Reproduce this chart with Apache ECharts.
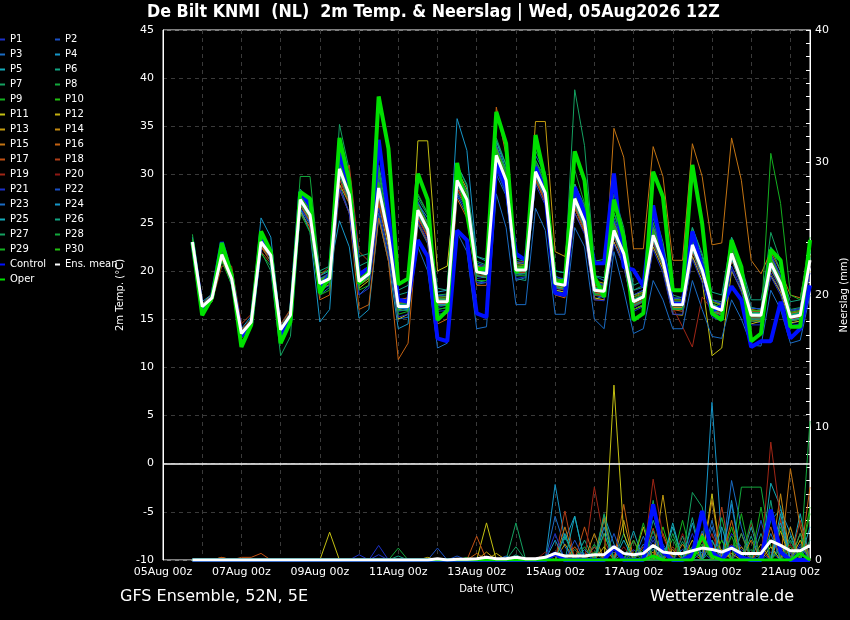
<!DOCTYPE html>
<html lang="en">
<head>
<meta charset="UTF-8">
<title>De Bilt KNMI 2m Temp. & Neerslag</title>
<script type="text/javascript" src="https://cdn.jsdelivr.net/npm/echarts@6/dist/echarts.min.js"></script>
<style>
    html, body { margin: 0; padding: 0; background: #000; }
</style>
</head>
<body>
<div id="main" style="width: 850px; height: 620px;"></div>
<script type="text/javascript">
    // forecast steps, hours after 05Aug 00z (run 05Aug 12Z, +6h ... +384h)
    var stepHours = [18,24,30,36,42,48,54,60,66,72,78,84,90,96,102,108,114,120,126,132,138,144,150,156,
        162,168,174,180,186,192,198,204,210,216,222,228,234,240,246,252,258,264,270,276,282,288,294,300,
        306,312,318,324,330,336,342,348,354,360,366,372,378,384,390,396];
    var dateLabels = ['05Aug 00z','07Aug 00z','09Aug 00z','11Aug 00z','13Aug 00z','15Aug 00z','17Aug 00z','19Aug 00z','21Aug 00z'];

    var memberNames = ['P1','P2','P3','P4','P5','P6','P7','P8','P9','P10','P11','P12','P13','P14','P15',
        'P16','P17','P18','P19','P20','P21','P22','P23','P24','P25','P26','P27','P28','P29','P30'];
    var memberColors = ['#1c30c8','#1a50c4','#1a6cc4','#1696c8','#14aab8','#12a482','#14a060','#12a83c','#14b020','#22c010',
        '#c4c012','#c4b010','#c49c10','#c48a10','#c47412','#c46212','#c05014','#b03e18','#a02616','#8e1814',
        '#1c30c8','#1a50c4','#1a6cc4','#1696c8','#14aab8','#12a482','#14a060','#12a83c','#14b020','#22c010'];

    // 2m temperature (°C) per member
    var memberTemp = [
        [23.3,16.6,17.4,21.9,19.5,13.8,14.9,23.4,21.8,14.1,15.6, 26.8,25.0,18.2,19.0,29.8,27.0,18.5,19.4,27.5,23.0,15.8,16.0, 25.5,23.8,16.2,16.5,28.8,27.0,19.2,19.4,30.8,28.2,19.5,19.8, 29.5,27.2,18.2,18.0,26.5,24.5,17.5,17.2,23.0,20.8,16.2,16.8, 22.8,20.5,16.0,16.2,21.5,19.5,15.8,15.2,20.5,18.2,14.8,14.6,19.8,17.9,14.5,14.8,20.5],
        [22.8,16.1,17.0,21.4,19.0,13.2,14.4,22.7,21.3,13.6,15.2, 27.9,26.3,19.2,19.6,31.5,28.5,19.5,20.2,29.5,24.6,17.0,17.2, 27.2,25.0,17.5,17.3,30.2,28.2,20.8,20.5,33.0,30.2,21.0,20.8, 31.0,29.0,19.5,19.0,28.5,26.0,18.8,18.6,25.5,22.8,17.5,18.0, 25.0,22.0,17.2,17.0,23.5,21.0,17.0,16.5,22.8,20.0,16.2,16.0,21.8,19.5,15.8,16.0,22.0],
        [23.1,16.2,17.3,21.6,19.3,13.4,14.8,23.1,21.7,13.8,15.3, 26.5,24.8,17.5,18.3,29.0,26.0,17.5,18.5,26.0,21.5,15.0,15.2, 24.8,22.8,15.5,15.6,27.8,25.8,18.6,18.8,30.0,27.8,19.0,19.3, 32.0,30.0,20.0,19.8,29.0,26.8,19.5,19.0,26.0,23.5,18.0,18.3, 24.5,22.0,17.0,17.3,23.0,20.5,16.5,16.0,22.0,19.2,15.6,15.8,21.0,19.0,15.5,15.8,21.5],
        [23.5,16.8,17.6,22.2,19.6,14.0,15.3,25.5,23.5,14.3,16.0, 27.8,26.5,19.5,20.0,25.2,22.5,15.1,16.0,25.5,21.0,14.0,14.5, 27.0,25.5,17.8,18.0,35.8,32.5,21.5,21.0,33.5,30.5,21.5,21.2, 29.8,27.5,18.0,17.8,26.8,24.2,17.0,17.5,24.8,22.0,16.5,17.0, 23.0,20.8,16.2,16.0,22.0,19.8,15.8,15.5,21.5,18.8,15.0,15.2,20.2,18.5,14.8,15.0,20.5],
        [22.7,16.4,17.3,21.8,19.4,13.6,14.6,22.8,21.6,13.7,15.6, 27.2,25.5,18.5,19.0,31.2,28.4,19.0,19.6,28.0,23.2,16.0,16.5, 26.8,24.8,17.2,17.0,29.8,27.5,20.2,19.8,32.5,29.8,20.4,20.5, 30.8,28.5,18.8,18.6,27.8,25.5,18.2,18.0,24.6,22.2,17.0,17.5, 24.2,21.5,16.8,16.8,23.0,20.5,16.5,16.2,22.2,19.5,15.8,15.6,21.5,19.2,15.5,15.7,22.0],
        [23.0,16.5,17.5,22.0,19.0,13.3,14.6,22.5,21.0,13.5,15.5, 28.2,26.8,19.5,20.2,32.0,29.2,20.5,21.0,30.5,25.5,17.5,17.8, 25.8,23.5,16.0,16.2,28.2,26.5,19.0,18.8,31.0,28.0,19.2,19.0, 29.2,27.5,18.4,18.2,27.0,25.0,17.8,17.6,24.0,21.5,16.5,17.0, 23.2,20.8,16.2,16.0,22.4,20.0,16.0,15.8,21.5,18.8,15.2,15.2,20.5,18.5,15.0,15.2,21.0],
        [23.2,16.0,16.8,21.3,18.5,12.4,14.2,22.0,20.0,11.2,13.2, 27.0,25.0,18.0,19.5,35.2,30.5,19.8,20.0,30.0,25.0,17.0,16.8, 27.5,25.8,17.5,17.6,31.0,28.8,21.0,20.6,33.8,31.0,21.2,21.0, 32.5,30.2,20.0,19.8,38.8,33.0,21.0,21.2,28.0,24.5,18.0,18.5, 26.5,23.0,17.5,17.2,24.5,21.5,17.0,16.8,23.5,20.5,16.2,16.0,24.0,21.0,16.0,16.2,22.5],
        [23.8,16.5,17.2,22.0,19.4,13.5,14.8,23.2,21.8,14.0,16.0, 29.8,29.8,19.8,20.0,30.0,27.5,18.8,19.5,27.8,23.0,16.0,16.2, 26.0,24.0,16.5,16.6,29.0,27.0,19.6,19.5,31.8,29.0,19.8,19.9, 30.0,27.8,18.5,18.3,27.2,25.0,17.8,17.7,24.0,21.5,16.6,17.0, 23.5,21.0,16.4,16.4,22.5,20.0,16.2,15.8,21.6,18.8,15.2,15.3,20.6,18.5,15.0,15.2,21.0],
        [22.9,16.2,17.0,21.5,19.1,13.6,14.8,23.3,21.9,14.2,15.8, 28.0,26.2,19.0,19.5,31.0,28.2,19.2,20.0,29.0,24.0,16.8,16.6, 26.6,24.6,17.0,17.2,29.6,27.6,20.0,19.8,32.2,29.6,20.3,20.2, 30.6,28.4,19.0,18.8,28.0,25.5,18.2,18.0,24.5,22.0,17.0,17.4, 24.0,21.3,16.6,16.6,23.0,20.3,16.4,16.0,22.0,19.2,15.5,15.5,21.0,18.9,15.3,15.5,21.3],
        [23.1,16.4,17.2,21.8,19.3,13.5,14.7,23.0,21.5,13.9,15.3, 27.5,26.0,18.8,19.3,30.4,27.8,19.0,19.8,28.5,23.5,16.2,16.4, 26.2,24.2,16.8,16.9,29.2,27.3,19.8,19.6,31.8,29.2,20.0,20.0, 30.2,28.0,18.6,18.4,27.4,25.0,17.9,17.8,24.0,21.7,16.7,17.2, 23.6,21.0,16.4,16.4,22.6,20.0,16.2,15.8,21.7,18.9,15.3,15.3,20.7,18.6,15.1,15.3,21.0],
        [22.8,16.0,17.4,21.2,19.0,13.0,14.5,22.5,21.4,13.6,15.5, 26.2,24.5,18.0,18.6,29.0,27.0,18.2,19.0,27.0,22.4,15.0,15.5, 33.5,33.5,20.0,20.5,30.5,28.5,20.5,20.2,33.0,30.0,20.8,20.6, 30.0,27.5,18.0,17.8,26.5,24.2,17.2,17.0,23.0,20.5,16.0,16.4, 22.5,20.2,15.5,15.4,21.5,19.0,11.2,12.0,20.0,18.0,14.5,14.8,19.5,17.8,14.6,14.8,20.0],
        [23.0,16.6,17.1,21.9,19.5,13.7,14.9,23.2,21.7,14.0,15.5, 27.0,25.5,18.5,19.0,30.2,27.5,18.5,19.2,28.0,23.5,16.5,16.8, 26.5,24.5,17.0,17.2,29.5,27.5,20.2,20.0,32.2,29.6,20.5,20.3, 30.5,28.5,19.0,18.7,27.8,25.3,18.2,18.0,24.5,22.0,17.0,17.4, 23.9,21.2,16.8,16.6,22.9,20.2,16.5,16.1,22.0,19.2,15.6,15.5,21.0,18.8,15.3,15.5,21.2],
        [22.9,16.5,17.6,21.7,19.2,13.8,15.0,22.9,21.5,14.0,15.8, 27.3,25.7,18.8,19.4,30.0,27.5,19.5,20.2,28.0,23.8,16.8,17.0, 26.0,24.0,16.6,16.8,29.0,27.0,20.0,19.8,31.5,29.0,20.2,20.5, 35.5,35.5,22.0,21.5,29.0,26.0,19.0,18.7,25.0,22.5,17.5,17.8, 24.5,21.8,17.0,17.0,23.5,20.8,16.8,16.5,22.5,19.8,16.0,15.8,21.5,19.2,15.6,15.8,21.6],
        [23.0,16.2,17.0,21.6,19.0,13.4,14.6,22.8,21.4,13.8,15.2, 27.0,25.2,18.4,18.9,30.0,27.3,18.6,19.3,28.0,23.2,16.0,16.2, 26.0,24.0,16.5,16.4,29.0,27.0,19.5,19.3,31.5,29.0,19.8,19.8, 30.0,27.8,18.4,18.2,27.0,24.8,17.7,17.6,24.0,21.5,16.5,17.0, 23.4,20.8,16.2,16.2,22.4,19.8,16.0,15.6,21.5,18.7,15.1,15.1,20.5,18.4,14.9,15.1,20.8],
        [23.2,16.4,17.2,21.8,19.2,13.6,14.8,23.1,21.8,14.0,15.5, 27.6,26.0,19.0,19.5,30.8,28.2,19.2,20.0,28.8,24.0,16.6,16.6, 26.6,24.6,17.0,17.0,29.6,27.6,20.2,20.0,32.4,29.8,20.4,20.4, 30.5,28.3,19.0,18.8,27.8,25.4,18.3,18.2,34.8,31.8,22.3,22.3, 32.9,29.8,21.1,21.1,33.2,29.8,22.7,22.9,33.8,29.4,21.1,19.7,22.0,20.0,17.5,17.2,22.5],
        [23.0,16.1,17.2,21.4,18.9,13.2,14.4,22.6,21.3,13.5,15.0, 26.0,24.5,17.0,17.5,28.5,26.0,16.0,16.5,25.5,21.0,10.8,12.5, 25.0,23.0,14.5,15.0,27.5,25.5,18.5,18.5,37.0,32.0,20.5,20.0, 29.5,27.0,17.5,17.2,26.0,24.0,17.0,17.0,23.5,21.0,16.0,16.5, 23.0,20.5,16.0,15.8,22.0,19.5,15.8,15.4,21.2,18.5,14.8,14.9,20.2,18.2,14.8,15.0,20.8],
        [23.1,16.3,17.0,21.5,19.5,13.9,15.0,22.5,21.0,14.2,15.6, 26.8,25.2,19.0,19.8,29.5,27.0,19.8,20.5,27.5,23.5,17.0,17.2, 25.6,23.6,17.2,17.4,28.6,26.8,20.5,20.5,31.0,28.5,20.8,21.0, 29.6,27.5,19.2,19.0,26.8,24.6,18.6,18.4,23.5,21.3,17.3,17.6, 23.0,20.8,17.0,17.0,22.0,19.8,16.8,16.4,21.2,18.6,15.8,15.8,20.2,18.3,15.6,15.8,20.6],
        [22.8,16.0,16.8,20.5,20.5,14.5,15.5,22.0,20.8,14.5,16.0, 26.0,24.5,19.5,20.5,28.0,31.0,22.0,21.0,27.0,23.0,16.8,16.5, 25.5,23.5,16.5,16.5,28.5,26.5,19.5,19.3,31.2,28.8,19.8,19.8, 29.5,27.2,18.2,18.0,26.5,24.2,17.5,17.4,23.5,21.0,16.3,16.8, 23.0,20.6,16.1,16.0,22.0,19.6,15.9,15.5,21.2,18.5,15.0,15.0,20.2,18.2,14.8,15.0,20.5],
        [23.0,16.4,17.4,21.8,19.4,13.6,14.9,23.0,21.8,14.0,15.6, 27.5,25.8,18.6,19.0,30.5,27.8,18.8,19.5,28.5,23.5,16.2,16.2, 26.2,24.2,16.6,16.6,29.2,27.2,19.6,19.4,31.8,29.2,19.8,19.9, 30.2,28.0,18.5,18.3,27.2,24.8,17.8,17.6,23.8,21.5,16.5,17.0, 23.5,20.8,16.2,14.2,12.1,17.3,16.0,15.6,21.5,18.7,15.1,15.1,20.5,18.4,15.0,15.2,20.8],
        [23.2,16.5,17.3,22.0,19.6,13.8,15.0,23.3,22.0,14.2,15.8, 27.8,26.2,19.0,19.6,31.0,28.3,19.2,20.0,29.0,24.2,16.8,16.8, 26.8,24.8,17.2,17.2,30.0,27.9,20.3,20.1,32.6,30.0,20.6,20.6, 30.8,28.6,19.0,18.9,28.2,25.7,18.4,18.3,24.8,22.3,17.3,17.8, 24.2,21.6,17.0,17.0,23.3,20.7,16.8,16.4,22.3,19.6,15.9,15.9,21.3,19.2,15.7,15.9,21.6],
        [23.0,16.2,17.1,21.7,19.2,13.4,14.6,22.9,21.5,13.8,15.3, 26.5,25.0,18.0,18.5,28.5,26.0,17.5,18.2,26.5,22.0,15.2,15.5, 25.2,23.2,15.8,15.9,28.0,26.2,18.8,18.8,30.5,28.0,19.2,19.4, 29.0,26.8,17.6,17.4,26.0,23.8,17.0,16.9,22.8,20.5,15.8,16.3, 22.2,19.8,15.5,15.5,21.2,18.8,15.2,14.8,20.2,17.8,14.4,14.4,19.4,17.5,14.3,14.5,19.8],
        [23.1,16.5,17.3,21.9,19.4,13.7,14.9,23.2,21.9,14.1,15.7, 28.0,26.5,19.2,19.8,31.5,28.6,19.5,20.3,29.5,24.5,16.8,17.0, 27.0,25.0,17.4,17.4,30.2,28.2,20.6,20.4,33.0,30.2,20.8,20.8, 31.2,29.0,19.3,19.2,28.5,26.0,18.7,18.5,25.2,22.6,17.5,18.0, 24.6,21.9,17.2,17.2,23.6,21.0,17.0,16.6,22.6,19.8,16.1,16.1,21.6,19.4,15.9,16.1,21.9],
        [22.9,16.3,17.3,21.6,19.1,13.5,14.7,23.1,21.6,13.9,15.4, 27.3,25.6,18.6,19.1,30.4,27.6,18.7,19.5,28.3,23.4,16.1,16.1, 22.5,20.0,12.0,12.5,24.0,22.0,14.0,14.2,28.0,24.5,16.5,16.5, 26.5,24.2,15.5,15.5,24.5,22.5,15.0,14.0,22.0,18.0,13.5,14.0, 19.0,17.0,14.0,14.0,19.0,16.0,13.2,13.0,17.0,15.0,12.3,12.2,18.0,16.0,12.5,12.8,17.5],
        [23.0,16.3,17.1,21.6,19.1,13.4,14.6,22.9,21.5,13.8,15.3, 26.5,24.0,14.7,16.0,30.3,27.6,18.7,19.5,28.2,23.4,16.1,16.0, 26.0,24.0,16.5,16.5,29.0,27.0,19.5,19.3,31.5,29.0,19.7,19.7, 29.8,27.6,18.3,18.1,27.0,24.6,17.6,17.5,23.6,21.3,16.4,16.9, 23.2,20.6,16.1,16.1,22.2,19.6,15.9,15.5,21.3,18.5,15.0,15.0,20.3,18.3,14.9,15.1,20.7],
        [23.1,16.4,17.2,21.8,19.3,13.6,14.8,23.1,21.7,14.0,15.5, 27.6,26.0,18.9,19.4,30.8,28.1,19.1,19.9,28.8,23.9,16.5,16.5, 26.5,24.5,17.0,17.0,29.6,27.6,20.1,19.9,32.2,29.6,20.3,20.3, 30.5,28.3,18.9,18.7,27.7,25.3,18.2,18.1,24.4,22.0,17.0,17.5, 23.9,21.3,16.7,16.7,22.9,20.3,16.5,16.1,22.0,19.2,15.6,15.6,21.0,18.9,15.4,15.6,21.3],
        [22.8,16.2,17.2,21.5,19.0,13.3,14.5,22.8,21.4,13.7,15.2, 28.5,27.0,20.0,20.5,32.5,29.5,21.5,21.8,31.0,26.0,18.0,18.5, 27.8,26.0,18.2,18.0,31.0,29.0,21.5,21.2,33.5,31.0,21.5,21.3, 31.5,29.5,20.0,19.8,29.0,26.5,19.5,19.3,26.0,23.2,18.5,19.0, 25.5,22.5,18.0,18.0,24.5,21.8,17.8,17.5,23.5,20.5,17.0,17.0,22.5,20.0,16.8,17.0,22.8],
        [23.0,16.3,17.2,21.7,19.2,13.5,14.7,23.0,21.6,13.9,15.4, 27.0,25.4,18.3,18.8,30.0,27.3,18.5,19.3,28.0,23.2,15.9,15.9, 25.9,23.9,16.4,16.4,29.0,27.0,19.5,19.3,31.6,29.0,19.7,19.7, 29.9,27.7,18.3,18.1,27.1,24.7,17.6,17.5,23.8,21.4,16.4,16.9, 23.3,20.7,16.1,16.1,22.3,19.7,15.9,15.5,21.4,18.6,15.0,15.0,20.4,18.3,14.8,15.0,20.7],
        [23.2,16.4,17.3,21.9,19.3,13.6,14.8,23.1,21.7,14.0,15.5, 27.7,26.1,19.0,19.5,30.9,28.2,19.2,20.0,28.9,24.0,16.6,16.6, 26.6,24.6,17.1,17.1,29.7,27.7,20.2,20.0,32.3,29.7,20.4,20.4, 30.6,28.4,19.0,18.8,27.8,25.4,18.3,18.2,24.5,22.1,17.1,17.6, 24.0,21.4,16.8,16.8,23.0,20.4,16.6,16.2,22.1,19.3,15.7,15.7,21.1,19.0,15.5,15.7,21.4],
        [23.3,16.2,16.8,21.0,18.6,12.6,14.2,21.8,20.5,13.2,14.5, 26.0,24.0,17.5,18.0,32.5,28.5,18.0,18.5,30.5,24.5,15.5,15.8, 28.0,26.0,16.0,16.2,30.5,28.0,19.0,19.0,32.5,30.5,19.5,19.5, 31.5,29.0,18.5,18.3,30.5,27.0,17.5,17.6,26.0,22.8,16.0,16.5, 25.0,22.0,16.0,16.0,24.0,21.0,15.5,15.2,23.0,20.0,14.8,14.8,32.2,27.0,17.5,17.0,23.5],
        [22.9,16.5,17.2,21.9,19.4,13.7,14.9,23.2,21.8,14.1,15.6, 27.8,26.3,19.1,19.6,31.2,28.4,19.4,20.2,29.2,24.2,16.8,16.8, 26.9,24.9,17.3,17.3,30.0,28.0,20.4,20.2,32.7,30.0,20.6,20.6, 30.9,28.7,19.2,19.0,28.2,25.7,18.5,18.4,24.8,22.4,17.3,17.8, 24.3,21.6,17.0,17.0,23.3,20.7,16.8,16.4,22.3,19.5,15.9,15.9,21.3,19.2,15.7,15.9,21.6]
    ];
    var controlTemp = [23.0,15.9,17.3,23.0,19.4,13.2,14.6,23.4,21.6,13.2,14.9, 28.2,26.8,18.2,19.6,32.2,28.9,19.6,20.3,33.6,25.8,17.0,16.8,
        23.2,21.5,13.0,12.7,24.2,23.2,15.6,15.2,31.2,28.7,21.8,21.1, 30.8,28.1,17.7,17.5,28.7,26.0,20.8,20.8,30.1,20.4,20.1,18.4,
        26.8,21.7,16.6,16.6,24.1,20.4,15.9,16.3,18.4,17.0,12.1,12.7,12.7,16.8,13.0,14.0,18.5];
    var operTemp = [23.0,15.4,17.2,22.9,19.6,12.1,14.4,24.1,22.0,12.5,14.7, 28.2,27.5,17.7,19.4,33.8,29.3,18.7,19.9,38.1,32.7,18.6,19.2,
        30.1,27.4,14.9,15.9,31.2,26.0,20.1,20.3,36.5,33.2,19.9,20.4, 34.1,29.4,18.7,19.0,32.4,29.4,19.4,17.3,27.4,23.5,14.9,15.6,
        30.3,27.7,18.0,18.0,31.0,24.9,15.6,14.9,23.2,20.4,12.7,13.5,22.2,21.1,14.2,14.2,23.2];
    var ensMeanTemp = [23.0,16.3,17.2,21.7,19.2,13.5,14.7,23.0,21.6,13.9,15.4, 27.4,25.8,18.7,19.2,30.6,27.9,18.9,19.7,28.6,23.7,16.3,16.3,
        26.3,24.3,16.8,16.8,29.4,27.4,19.9,19.7,32.0,29.4,20.1,20.1, 30.3,28.1,18.7,18.5,27.5,25.1,18.0,17.9,24.2,21.8,16.8,17.3,
        23.7,21.1,16.5,16.5,22.7,20.1,16.3,15.9,21.8,19.0,15.4,15.4,20.8,18.7,15.2,15.4,21.1];

    // precipitation (mm per 6h): [step index, mm], all other steps dry
    var memberRain = [
        [[17,0.4],[19,1.1],[37,0.3],[40,0.5],[47,1.5],[50,0.8],[55,2.0],[56,1.0],[59,0.6],[62,1.2]],
        [[25,0.9],[27,0.3],[43,0.6],[48,1.2],[52,2.2],[58,0.5],[61,1.5]],
        [[37,3.3],[38,1.0],[44,0.5],[46,1.8],[53,2.5],[55,6.0],[56,2.5],[60,1.0]],
        [[37,5.7],[38,1.5],[39,3.3],[42,3.4],[43,1.2],[47,0.8],[53,11.9],[54,1.5],[59,3.0],[60,3.8],[61,2.0]],
        [[38,2.0],[41,1.0],[45,2.2],[49,2.5],[51,1.0],[57,2.5],[59,5.8],[60,4.0],[62,3.5]],
        [[33,0.4],[40,1.5],[42,3.0],[47,3.0],[48,1.0],[50,1.8],[55,1.0],[58,2.0],[61,1.8]],
        [[33,2.8],[39,0.8],[44,2.0],[47,4.5],[51,5.1],[52,4.0],[57,0.8],[60,1.2],[63,1.5]],
        [[21,0.9],[28,0.2],[41,1.2],[46,0.8],[49,1.6],[54,3.2],[56,5.5],[57,5.5],[58,5.5],[59,1.0],[63,10.5]],
        [[42,2.0],[45,0.5],[50,3.0],[53,1.5],[56,3.5],[60,2.5]],
        [[43,0.8],[48,2.5],[52,1.2],[55,2.5],[61,1.0],[63,4.0]],
        [[14,2.1],[30,2.8],[43,13.2],[44,2.0],[48,1.0],[53,5.0],[55,0.5],[59,1.0]],
        [[24,0.2],[31,0.5],[42,1.0],[46,2.5],[51,1.5],[54,0.8],[60,2.2],[62,1.5]],
        [[30,0.6],[38,1.2],[44,3.0],[48,4.9],[52,2.0],[58,1.2],[61,2.5]],
        [[41,2.0],[45,1.5],[49,0.8],[53,4.5],[56,1.0],[60,5.0],[62,2.0]],
        [[3,0.2],[6,0.1],[38,2.5],[42,3.2],[47,0.6],[50,1.2],[57,1.5],[61,6.9],[62,2.5]],
        [[29,0.5],[39,1.0],[44,4.2],[48,2.0],[51,0.5],[55,3.0],[59,2.5],[63,5.5]],
        [[3,0.2],[5,0.2],[6,0.2],[7,0.5],[29,1.8],[40,2.5],[46,1.0],[52,1.5],[56,2.0],[60,3.0]],
        [[38,3.7],[41,1.0],[47,2.4],[49,1.0],[54,4.0],[58,0.8],[62,3.0]],
        [[41,5.5],[42,1.5],[47,6.1],[48,1.8],[53,2.0],[59,8.9],[60,3.0]],
        [[36,0.6],[44,1.0],[50,2.0],[55,1.2],[57,2.8],[61,1.2]],
        [[19,0.4],[37,2.0],[45,0.8],[51,2.0],[56,0.8],[61,0.5]],
        [[39,1.5],[43,2.0],[47,1.8],[52,0.6],[58,3.0],[62,1.0]],
        [[32,0.3],[40,0.8],[46,1.2],[53,3.0],[55,4.2],[59,2.0]],
        [[37,1.5],[42,2.5],[47,1.0],[51,2.8],[53,1.5],[55,4.5],[60,2.8]],
        [[39,3.3],[44,1.5],[49,2.8],[54,2.5],[60,3.5],[63,2.5]],
        [[21,0.3],[38,1.8],[42,2.0],[48,1.0],[51,3.2],[57,1.8],[59,4.5]],
        [[33,1.0],[42,3.5],[47,2.2],[50,1.4],[56,2.0],[62,2.0]],
        [[40,1.0],[45,1.5],[49,2.0],[53,0.8],[57,3.0],[61,1.5]],
        [[41,0.6],[46,2.8],[52,1.2],[55,1.8],[58,4.0],[63,3.5]],
        [[43,1.0],[48,0.6],[51,1.0],[54,1.5],[60,0.8]]
    ];
    var controlRain = [[37,0.5],[43,1.0],[47,4.2],[48,0.6],[51,0.4],[52,3.7],[53,0.6],[55,1.0],[56,0.2],[59,3.8],[60,0.6]];
    var operRain = [[47,0.3],[52,1.8],[53,0.3],[62,0.5]];
    var ensMeanRain = [0,0,0,0,0,0,0,0,0,0,0,0,0,0,0,0,0,0,0,0,0,0,0,0,0,
        0.1,0,0.05,0.05,0.1,0.2,0.1,0.1,0.2,0.1,0.1,0.2,0.5,0.3,0.3,0.3,0.4,0.4,1.0,0.5,0.4,0.5,1.1,0.6,0.5,0.5,0.7,0.9,0.8,0.6,0.9,0.5,0.5,0.5,1.45,1.1,0.7,0.7,1.1];

    function toPoints(vals) {
        return vals.map(function (v, i) { return [stepHours[i], v]; });
    }
    function rainPoints(list) {
        var full = stepHours.map(function () { return 0; });
        list.forEach(function (p) { full[p[0]] = p[1]; });
        return toPoints(full);
    }
    function lineSeries(name, color, width, axis, data, z) {
        return {
            name: name, type: 'line', yAxisIndex: axis, data: data, z: z,
            showSymbol: false, symbol: 'none', silent: true,
            lineStyle: { color: color, width: width }, itemStyle: { color: color }
        };
    }

    var series = [];
    memberNames.forEach(function (n, k) {
        series.push(lineSeries(n, memberColors[k], 1, 0, toPoints(memberTemp[k]), 2));
    });
    memberNames.forEach(function (n, k) {
        series.push(lineSeries(n, memberColors[k], 1, 1, rainPoints(memberRain[k]), 2));
    });
    series.push(lineSeries('Control', '#0010ff', 4, 0, toPoints(controlTemp), 3));
    series.push(lineSeries('Control', '#0010ff', 4, 1, rainPoints(controlRain), 3));
    series.push(lineSeries('Oper', '#00e000', 4, 0, toPoints(operTemp), 4));
    series.push(lineSeries('Oper', '#00e000', 3, 1, rainPoints(operRain), 4));
    series.push(lineSeries('Ens. mean', '#ffffff', 3, 0, toPoints(ensMeanTemp), 5));
    series.push(lineSeries('Ens. mean', '#ffffff', 3, 1, toPoints(ensMeanRain), 5));
    // freezing line
    series[0].markLine = {
        silent: true, symbol: 'none', label: { show: false },
        lineStyle: { color: '#ffffff', width: 1.5, type: 'solid' },
        data: [{ yAxis: 0 }]
    };

    var leftLegend = ['P1','P3','P5','P7','P9','P11','P13','P15','P17','P19','P21','P23','P25','P27','P29','Control','Oper'];
    var rightLegend = ['P2','P4','P6','P8','P10','P12','P14','P16','P18','P20','P22','P24','P26','P28','P30','Ens. mean'];
    var legendText = { color: '#fff', fontSize: 10, fontFamily: 'DejaVu Sans', lineHeight: 13 };

    var myChart = echarts.init(document.getElementById('main'));
    var option = {
        backgroundColor: '#000',
        animation: false,
        title: [
            {
                text: 'De Bilt KNMI  (NL)  2m Temp. & Neerslag | Wed, 05Aug2026 12Z',
                left: 147, top: 3, padding: 0,
                textStyle: { color: '#fff', fontSize: 17.7, fontWeight: 'bold', fontFamily: 'DejaVu Sans Condensed' }
            },
            {
                text: 'GFS Ensemble, 52N, 5E', left: 120, top: 589, padding: 0,
                textStyle: { color: '#fff', fontSize: 16, fontWeight: 'normal', fontFamily: 'DejaVu Sans' }
            },
            {
                text: 'Wetterzentrale.de', left: 650, top: 589, padding: 0,
                textStyle: { color: '#fff', fontSize: 16, fontWeight: 'normal', fontFamily: 'DejaVu Sans' }
            }
        ],
        legend: [
            { orient: 'vertical', left: 0, top: 33, padding: 0, itemWidth: 5, itemHeight: 2, itemGap: 2, icon: 'rect',
              selectedMode: false, textStyle: legendText, data: leftLegend },
            { orient: 'vertical', left: 55, top: 33, padding: 0, itemWidth: 5, itemHeight: 2, itemGap: 2, icon: 'rect',
              selectedMode: false, textStyle: legendText, data: rightLegend }
        ],
        grid: {
            left: 163, right: 40, top: 30, bottom: 60, outerBoundsMode: 'none',
            show: true, borderColor: '#fff', borderWidth: 1, backgroundColor: 'transparent'
        },
        xAxis: {
            type: 'value', min: 0, max: 396, interval: 24,
            name: 'Date (UTC)', nameLocation: 'middle', nameGap: 24,
            nameTextStyle: { color: '#fff', fontSize: 10, fontFamily: 'DejaVu Sans' },
            axisLine: { show: false }, axisTick: { show: false },
            axisLabel: {
                color: '#fff', fontSize: 11, fontFamily: 'DejaVu Sans', margin: 7,
                formatter: function (v) { return v % 48 === 0 ? dateLabels[v / 48] : ''; }
            },
            splitLine: { show: true, lineStyle: { color: '#3a3a3a', type: [4, 4] } }
        },
        yAxis: [
            {
                type: 'value', min: -10, max: 45, interval: 5,
                name: '2m Temp. (°C)', nameLocation: 'middle', nameGap: 26, nameRotate: 90,
                nameTextStyle: { color: '#fff', fontSize: 10, fontFamily: 'DejaVu Sans' },
                axisLine: { show: true, lineStyle: { color: '#fff' } }, axisTick: { show: false },
                axisLabel: { color: '#fff', fontSize: 11, fontFamily: 'DejaVu Sans', margin: 9 },
                splitLine: { show: true, lineStyle: { color: '#3a3a3a', type: [4, 4] } }
            },
            {
                type: 'value', min: 0, max: 40, interval: 10, position: 'right',
                name: 'Neerslag (mm)', nameLocation: 'middle', nameGap: 24, nameRotate: 90,
                nameTextStyle: { color: '#fff', fontSize: 10, fontFamily: 'DejaVu Sans' },
                axisLine: { show: true, lineStyle: { color: '#fff' } },
                axisTick: { show: true, inside: true, length: 4, lineStyle: { color: '#fff' } },
                minorTick: { show: true, splitNumber: 10, length: 4, lineStyle: { color: '#fff' } },
                axisLabel: { color: '#fff', fontSize: 11, fontFamily: 'DejaVu Sans', margin: 5 },
                splitLine: { show: false }
            }
        ],
        series: series
    };
    myChart.setOption(option);
</script>
</body>
</html>
